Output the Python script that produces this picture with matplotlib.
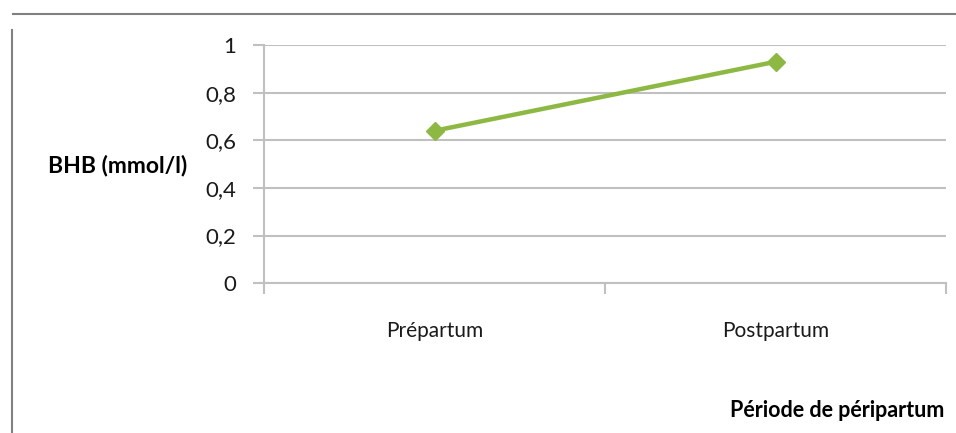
import matplotlib.pyplot as plt
from matplotlib.lines import Line2D

plt.rcParams['font.family'] = ['Lato', 'DejaVu Sans']

periods = ['Prépartum', 'Postpartum']
bhb = [0.64, 0.93]
yticks = [0, 0.2, 0.4, 0.6, 0.8, 1]
ytick_labels = ['0', '0,2', '0,4', '0,6', '0,8', '1']

fig = plt.figure(figsize=(9.56, 4.33), dpi=100)
ax = fig.add_axes([0.276, 0.346, 0.714, 0.55])

grid_col = '#c0c0c0'
x = [0.5, 1.5]
ax.plot(x, bhb, color='#8db843', lw=3.2, marker='D', ms=9, zorder=3)

ax.set_xlim(0, 2)
ax.set_ylim(0, 1)
ax.set_yticks(yticks)
ax.set_yticklabels(ytick_labels)
ax.set_xticks([0, 1, 2])
ax.set_xticklabels([])
ax.set_xticks(x, minor=True)
ax.set_xticklabels(periods, minor=True)
ax.yaxis.grid(True, color=grid_col, lw=1.5)
ax.set_axisbelow(True)

for s in ['top', 'right']:
    ax.spines[s].set_visible(False)
for s in ['left', 'bottom']:
    ax.spines[s].set_color(grid_col)
    ax.spines[s].set_linewidth(1.5)

ax.tick_params(axis='y', length=8, width=1.5, color=grid_col, labelsize=16, pad=12, labelcolor='#1a1a1a')
ax.tick_params(axis='x', which='major', length=8, width=1.5, color=grid_col, direction='out')
ax.tick_params(axis='x', which='minor', length=0, labelsize=15, pad=27, labelcolor='#1a1a1a')

fig.text(0.05, 0.617, 'BHB (mmol/l)', fontsize=16.5, fontweight='bold', va='center', ha='left')
fig.text(0.988, 0.052, 'Période de péripartum', fontsize=15.5, fontweight='bold', va='center', ha='right')

# partial chart border
fig.add_artist(Line2D([0.014, 1.0], [0.968, 0.968], color='#808080', lw=1.5, transform=fig.transFigure))
fig.add_artist(Line2D([0.013, 0.013], [0.0, 0.93], color='#808080', lw=1.5, transform=fig.transFigure))

fig.savefig('out.png', dpi=100)
